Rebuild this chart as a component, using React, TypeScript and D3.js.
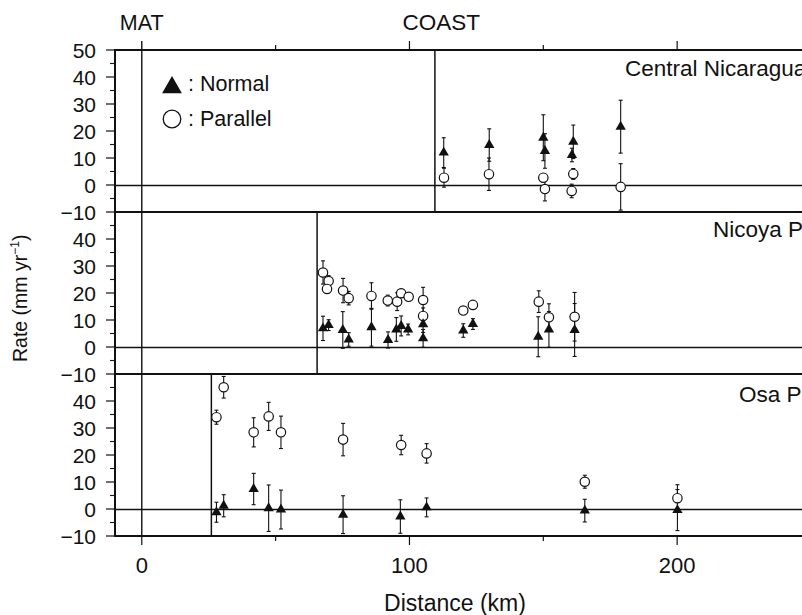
import React from 'react';
import * as d3 from 'd3';

type Pt = { d: number; v: number; e: number };

// Central Nicaragua
const nicNormal: Pt[] = [
  { d: 112.8, v: 12.0, e: 5.5 },
  { d: 129.8, v: 14.8, e: 6.0 },
  { d: 150.0, v: 17.5, e: 8.5 },
  { d: 150.6, v: 12.6, e: 6.4 },
  { d: 161.2, v: 16.0, e: 6.2 },
  { d: 160.7, v: 11.1, e: 2.5 },
  { d: 178.9, v: 21.6, e: 9.8 },
];
const nicParallel: Pt[] = [
  { d: 112.9, v: 2.7, e: 3.5 },
  { d: 129.7, v: 4.0, e: 6.0 },
  { d: 150.0, v: 2.7, e: 1.5 },
  { d: 150.6, v: -1.5, e: 4.4 },
  { d: 161.2, v: 4.1, e: 2.0 },
  { d: 160.6, v: -2.2, e: 2.5 },
  { d: 178.9, v: -0.7, e: 8.6 },
];

// Nicoya Peninsula
const nicoyaNormal: Pt[] = [
  { d: 67.7, v: 6.9, e: 4.5 },
  { d: 69.8, v: 8.1, e: 2.0 },
  { d: 75.1, v: 6.3, e: 6.8 },
  { d: 77.3, v: 2.8, e: 2.5 },
  { d: 85.8, v: 7.3, e: 7.0 },
  { d: 92.0, v: 2.6, e: 3.0 },
  { d: 95.1, v: 6.5, e: 4.4 },
  { d: 96.9, v: 7.8, e: 3.7 },
  { d: 99.5, v: 6.5, e: 2.0 },
  { d: 105.1, v: 8.4, e: 3.0 },
  { d: 105.1, v: 3.2, e: 3.3 },
  { d: 120.1, v: 6.1, e: 2.5 },
  { d: 123.7, v: 8.5, e: 2.0 },
  { d: 148.1, v: 3.8, e: 7.4 },
  { d: 152.1, v: 6.5, e: 6.6 },
  { d: 161.7, v: 6.3, e: 9.8 },
];
const nicoyaParallel: Pt[] = [
  { d: 67.7, v: 27.6, e: 4.3 },
  { d: 69.8, v: 24.4, e: 2.0 },
  { d: 69.2, v: 21.5, e: 1.5 },
  { d: 75.2, v: 20.9, e: 4.5 },
  { d: 77.3, v: 18.1, e: 2.5 },
  { d: 85.8, v: 18.9, e: 4.9 },
  { d: 91.9, v: 17.2, e: 2.0 },
  { d: 95.4, v: 16.8, e: 3.3 },
  { d: 96.9, v: 19.9, e: 1.5 },
  { d: 99.7, v: 18.6, e: 1.0 },
  { d: 105.1, v: 17.4, e: 4.7 },
  { d: 105.1, v: 11.5, e: 3.0 },
  { d: 120.1, v: 13.5, e: 0.5 },
  { d: 123.7, v: 15.6, e: 0.5 },
  { d: 148.3, v: 16.8, e: 4.0 },
  { d: 152.1, v: 11.0, e: 5.0 },
  { d: 161.7, v: 11.2, e: 9.0 },
];

// Osa Peninsula
const osaNormal: Pt[] = [
  { d: 27.9, v: -1.2, e: 3.7 },
  { d: 30.6, v: 1.2, e: 4.1 },
  { d: 41.8, v: 7.4, e: 5.8 },
  { d: 47.4, v: 0.3, e: 8.6 },
  { d: 52.0, v: -0.2, e: 7.2 },
  { d: 75.2, v: -2.1, e: 7.0 },
  { d: 96.6, v: -2.8, e: 6.2 },
  { d: 106.4, v: 0.6, e: 3.5 },
  { d: 165.5, v: -0.6, e: 4.2 },
  { d: 200.1, v: -0.4, e: 7.6 },
];
const osaParallel: Pt[] = [
  { d: 27.9, v: 34.0, e: 2.6 },
  { d: 30.6, v: 45.1, e: 4.0 },
  { d: 41.8, v: 28.4, e: 5.4 },
  { d: 47.4, v: 34.3, e: 5.2 },
  { d: 52.0, v: 28.4, e: 6.0 },
  { d: 75.2, v: 25.7, e: 6.0 },
  { d: 96.9, v: 23.7, e: 3.6 },
  { d: 106.4, v: 20.6, e: 3.6 },
  { d: 165.5, v: 10.1, e: 2.4 },
  { d: 200.1, v: 4.0, e: 5.0 },
];

const panelNames = ['Central Nicaragua', 'Nicoya Peninsula', 'Osa Peninsula'];
const coastKm = [109.5, 65.5, 26];
const normals = [nicNormal, nicoyaNormal, osaNormal];
const parallels = [nicParallel, nicoyaParallel, osaParallel];
const xTicks = [0, 50, 100, 150, 200];
const xTickLabels = [0, 100, 200];

const FONT = '"Liberation Sans", Arial, Helvetica, sans-serif';
const INK = '#111';

const fmt = (v: number) => (v < 0 ? '\u2212' + Math.abs(v) : String(v));

export default function App() {
  const width = 802;
  const height = 615;
  const top = 50;
  const panelH = 162;
  const bottom = top + panelH * 3;

  const x = d3.scaleLinear().domain([-10, 250]).range([115, 811]);
  const tri = d3.symbol().type(d3.symbolTriangle).size(46)() as string;
  const legendTri = d3.symbol().type(d3.symbolTriangle).size(170)() as string;

  const titleX = [625, 713, 739];
  const titleDy = [26, 25, 28];

  const errBar = (p: Pt, y: d3.ScaleLinear<number, number>, key: string) => {
    const cx = x(p.d);
    const y1 = y(p.v + p.e);
    const y2 = y(p.v - p.e);
    return (
      <g key={key} stroke={INK} strokeWidth={1.1}>
        <line x1={cx} x2={cx} y1={y1} y2={y2} />
        <line x1={cx - 2} x2={cx + 2} y1={y1} y2={y1} />
        <line x1={cx - 2} x2={cx + 2} y1={y2} y2={y2} />
      </g>
    );
  };

  return (
    <svg
      width={width}
      height={height}
      style={{ position: 'absolute', left: 0, top: 0, background: '#fff' }}
      fontFamily={FONT}
    >
      {panelNames.map((name, i) => {
        const pTop = top + i * panelH;
        const y = d3.scaleLinear().domain([-10, 50]).range([pTop + panelH, pTop]);
        const labels = i === 0 ? d3.range(50, -11, -10) : d3.range(40, -11, -10);
        const minors = d3.range(45, -10, -10);
        return (
          <g key={name}>
            {/* zero line */}
            <line x1={x(-10)} x2={width} y1={y(0) + 0.5} y2={y(0) + 0.5} stroke={INK} strokeWidth={1.3} />
            {/* coast line */}
            <line x1={x(coastKm[i])} x2={x(coastKm[i])} y1={pTop} y2={pTop + panelH} stroke={INK} strokeWidth={1.5} />
            {/* y ticks */}
            {labels.map(t => (
              <g key={'t' + t}>
                <line x1={x(-10) - 9} x2={x(-10)} y1={y(t)} y2={y(t)} stroke={INK} strokeWidth={1.2} />
                <text x={96} y={y(t)} dy="0.36em" textAnchor="end" fontSize={21} fill={INK}>
                  {fmt(t)}
                </text>
              </g>
            ))}
            {minors.map(t => (
              <line key={'m' + t} x1={x(-10) - 5} x2={x(-10)} y1={y(t)} y2={y(t)} stroke={INK} strokeWidth={1.1} />
            ))}
            {/* error bars */}
            {normals[i].map((p, j) => errBar(p, y, 'en' + j))}
            {parallels[i].map((p, j) => errBar(p, y, 'ep' + j))}
            {/* markers */}
            {parallels[i].map((p, j) => (
              <circle key={'c' + j} cx={x(p.d)} cy={y(p.v)} r={4.7} fill="#fff" stroke={INK} strokeWidth={1.2} />
            ))}
            {normals[i].map((p, j) => (
              <path key={'n' + j} d={tri} transform={`translate(${x(p.d)},${y(p.v)})`} fill={INK} />
            ))}
            {/* panel title */}
            <text x={titleX[i]} y={pTop + titleDy[i]} fontSize={22.5} fill={INK}>
              {name}
            </text>
            {/* panel top border */}
            <line x1={x(-10) - 1} x2={width} y1={pTop} y2={pTop} stroke={INK} strokeWidth={2.2} />
          </g>
        );
      })}

      {/* bottom border */}
      <line x1={x(-10) - 1} x2={width} y1={bottom} y2={bottom} stroke={INK} strokeWidth={2.2} />
      {/* left axis */}
      <line x1={x(-10)} x2={x(-10)} y1={top} y2={bottom} stroke={INK} strokeWidth={2} />
      {/* MAT line */}
      <line x1={x(0)} x2={x(0)} y1={top - 9} y2={bottom} stroke={INK} strokeWidth={1.4} />

      {/* top & bottom x ticks */}
      {xTicks.map(t => {
        const len = t % 100 === 0 ? 9 : 5;
        return (
          <g key={'xt' + t} stroke={INK} strokeWidth={1.2}>
            {t !== 0 && <line x1={x(t)} x2={x(t)} y1={top} y2={top - len} />}
            <line x1={x(t)} x2={x(t)} y1={bottom} y2={bottom + len} />
          </g>
        );
      })}
      {xTickLabels.map(t => (
        <text key={'xl' + t} x={x(t)} y={572.5} textAnchor="middle" fontSize={22} fill={INK}>
          {t}
        </text>
      ))}

      {/* axis titles */}
      <text x={455} y={611} textAnchor="middle" fontSize={23} fill={INK}>
        Distance (km)
      </text>
      <text transform="translate(27,362) rotate(-90)" fontSize={19.5} fill={INK}>
        <tspan>Rate (mm yr</tspan>
        <tspan fontSize={12} dy={-8}>{'\u22121'}</tspan>
        <tspan dy={8}>)</tspan>
      </text>

      {/* MAT and COAST labels */}
      <text x={x(0)} y={30} textAnchor="middle" fontSize={21.5} fill={INK}>MAT</text>
      <text x={x(111.9)} y={30} textAnchor="middle" fontSize={22.5} fill={INK}>COAST</text>

      {/* legend */}
      <path d={legendTri} transform="translate(172,87.5)" fill={INK} />
      <text x={188} y={91} fontSize={21.5} fill={INK}>: Normal</text>
      <circle cx={172} cy={119} r={8.8} fill="#fff" stroke={INK} strokeWidth={1.3} />
      <text x={188} y={125.5} fontSize={21.5} fill={INK}>: Parallel</text>
    </svg>
  );
}
